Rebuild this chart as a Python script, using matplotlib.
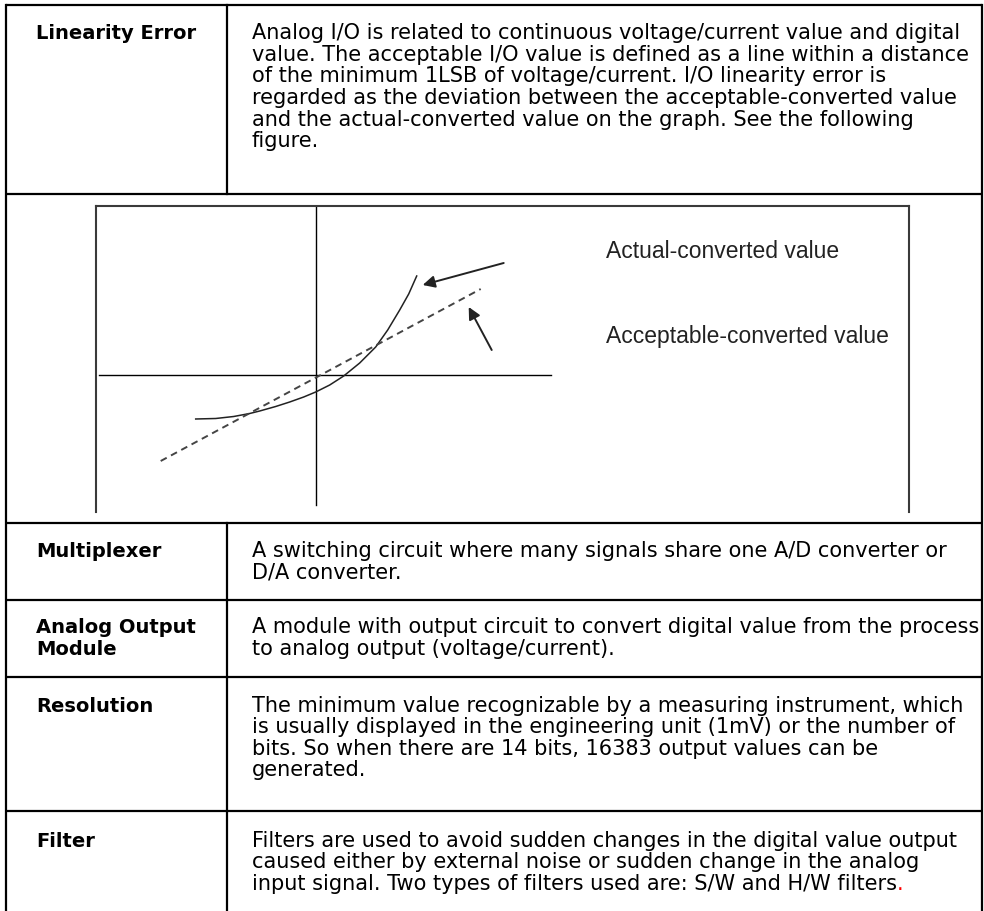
import matplotlib
matplotlib.use('Agg')
import matplotlib.pyplot as plt
import numpy as np

plt.rcParams['font.family'] = ['DejaVu Sans']

W, H = 984, 911

# table content
terms = [['Linearity Error'], ['Multiplexer'], ['Analog Output', 'Module'],
         ['Resolution'], ['Filter']]
descriptions = [
    ['Analog I/O is related to continuous voltage/current value and digital',
     'value. The acceptable I/O value is defined as a line within a distance',
     'of the minimum 1LSB of voltage/current. I/O linearity error is',
     'regarded as the deviation between the acceptable-converted value',
     'and the actual-converted value on the graph. See the following',
     'figure.'],
    ['A switching circuit where many signals share one A/D converter or',
     'D/A converter.'],
    ['A module with output circuit to convert digital value from the process',
     'to analog output (voltage/current).'],
    ['The minimum value recognizable by a measuring instrument, which',
     'is usually displayed in the engineering unit (1mV) or the number of',
     'bits. So when there are 14 bits, 16383 output values can be',
     'generated.'],
    ['Filters are used to avoid sudden changes in the digital value output',
     'caused either by external noise or sudden change in the analog',
     'input signal. Two types of filters used are: S/W and H/W filters'],
]

# diagram content (units relative to the axis crossing)
actual_x = [-120, -100, -82, -66, -56, -40, -26, -12, 0, 14, 28, 44, 60, 72, 84, 93, 101]
actual_y = [-44, -43.5, -41.5, -38.5, -36, -31.5, -27, -22, -17, -10, -1, 12, 28, 45, 65, 81, 99]
acceptable_x = [-155, 165]
acceptable_y = [-86, 86]
label_actual = 'Actual-converted value'
label_acceptable = 'Acceptable-converted value'

# layout in pixels
row_lines = [5, 194, 523, 600, 677, 811]
first_baselines = [39.3, 556.7, 633.3, 711.7, 846.7]
line_step = 21.6
left_x, col_x, right_x = 6, 227, 982
term_x, desc_x = 36, 252
fs_term, fs_desc = 14, 15

fig = plt.figure(figsize=(W / 100, H / 100), dpi=100)
ax = fig.add_axes([0, 0, 1, 1])
ax.set_xlim(0, W)
ax.set_ylim(H, 0)
ax.axis('off')

lw = 1.6
for y in row_lines:
    ax.plot([left_x, right_x], [y, y], color='black', lw=lw, solid_capstyle='butt')
ax.plot([left_x, left_x], [row_lines[0], H], color='black', lw=lw)
ax.plot([right_x, right_x], [row_lines[0], H], color='black', lw=lw)
ax.plot([col_x, col_x], [row_lines[0], row_lines[1]], color='black', lw=lw)
ax.plot([col_x, col_x], [row_lines[2], H], color='black', lw=lw)

last = None
for term, lines, base in zip(terms, descriptions, first_baselines):
    for i, t in enumerate(term):
        ax.text(term_x, base + i * line_step, t, fontsize=fs_term, fontweight='bold',
                va='baseline')
    for i, line in enumerate(lines):
        last = ax.text(desc_x, base + i * line_step, line, fontsize=fs_desc,
                       va='baseline')

# red full stop after the last line
fig.canvas.draw()
bb = last.get_window_extent().transformed(ax.transData.inverted())
ax.text(bb.x1, first_baselines[-1] + 2 * line_step, '.', fontsize=fs_desc,
        va='baseline', color='red')

# diagram
bx0, by0, bx1, by1 = 96, 206, 909, 512
ox, oy = 315.7, 375
dax = fig.add_axes([bx0 / W, 1 - by1 / H, (bx1 - bx0) / W, (by1 - by0) / H])
dax.set_xlim(bx0 - ox, bx1 - ox)
dax.set_ylim(oy - by1, oy - by0)
dax.set_xticks([])
dax.set_yticks([])
dax.patch.set_alpha(0)
for side in ['left', 'top', 'right']:
    dax.spines[side].set_color('#3a3a3a')
    dax.spines[side].set_linewidth(1.5)
dax.spines['bottom'].set_visible(False)

dax.plot([0, 0], [oy - 505, oy - by0], color='black', lw=1.0)
dax.plot([99 - ox, 551 - ox], [0, 0], color='black', lw=1.0)
dax.plot(actual_x, actual_y, color='#222222', lw=1.1)
dax.plot(acceptable_x, acceptable_y, color='#444444', lw=1.4, dashes=(3.5, 2.5))

dax.annotate('', xy=(107, 90), xytext=(188, 112),
             arrowprops=dict(arrowstyle='-|>', color='#222222', lw=1.4,
                             mutation_scale=18, shrinkA=0, shrinkB=0))
dax.annotate('', xy=(153, 68), xytext=(176, 25),
             arrowprops=dict(arrowstyle='-|>', color='#222222', lw=1.4,
                             mutation_scale=18, shrinkA=0, shrinkB=0))

dax.text(290, 124, label_actual, fontsize=16.5, va='center', ha='left',
         color='#222222', family='Liberation Sans')
dax.text(290, 39, label_acceptable, fontsize=16.5, va='center', ha='left',
         color='#222222', family='Liberation Sans')

fig.savefig('out.png', dpi=100)
